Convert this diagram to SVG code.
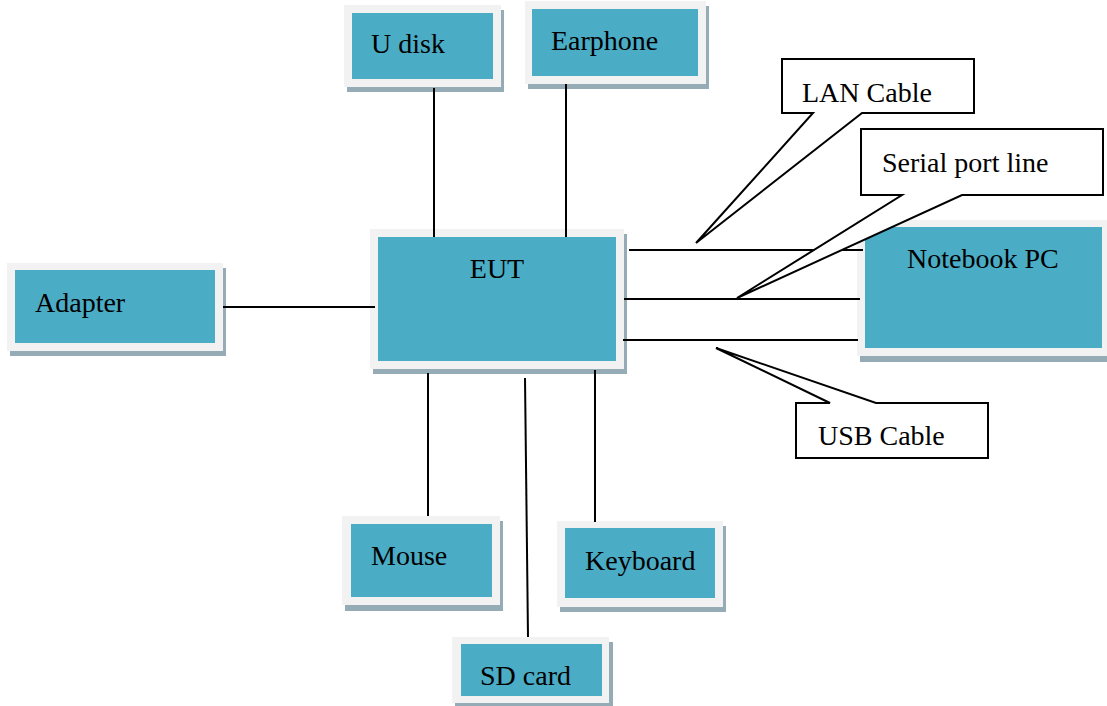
<svg xmlns="http://www.w3.org/2000/svg" width="1107" height="706" viewBox="0 0 1107 706">
<style>
.sh{fill:#95acb6}
.fr{fill:#f2f2f2}
.tl{fill:#4bacc6}
.t{font-family:"Liberation Serif","Times New Roman",serif;font-size:28px;fill:#000}
.ln{stroke:#000;stroke-width:2;fill:none}
.co{stroke:#000;stroke-width:2;fill:#fff;stroke-linejoin:miter}
</style>
<rect width="1107" height="706" fill="#fff"/>
<g id="udisk">
<rect class="sh" x="347" y="10" width="157" height="82"/>
<rect class="fr" x="344" y="5" width="157" height="82"/>
<rect class="tl" x="352" y="13" width="141" height="66"/>
<text class="t" x="371" y="53">U disk</text>
</g>
<g id="earphone">
<rect class="sh" x="528" y="6" width="181" height="83"/>
<rect class="fr" x="525" y="1" width="181" height="83"/>
<rect class="tl" x="532" y="9" width="166" height="67"/>
<text class="t" x="551" y="50">Earphone</text>
</g>
<g id="eut">
<rect class="sh" x="373" y="234" width="254" height="140"/>
<rect class="fr" x="370" y="229" width="254" height="140"/>
<rect class="tl" x="378" y="237" width="238" height="124"/>
<text class="t" x="497" y="278" text-anchor="middle">EUT</text>
</g>
<g id="adapter">
<rect class="sh" x="10" y="268" width="216" height="88"/>
<rect class="fr" x="7" y="263" width="216" height="88"/>
<rect class="tl" x="15" y="270" width="200" height="73"/>
<text class="t" x="35" y="312">Adapter</text>
</g>
<g id="notebook">
<rect class="sh" x="860" y="225" width="260" height="137"/>
<rect class="fr" x="857" y="220" width="260" height="136"/>
<rect class="tl" x="865" y="227" width="237" height="121"/>
<text class="t" x="907" y="268">Notebook PC</text>
</g>
<g id="mouse">
<rect class="sh" x="345" y="521" width="158" height="90"/>
<rect class="fr" x="342" y="516" width="158" height="89"/>
<rect class="tl" x="351" y="524" width="141" height="73"/>
<text class="t" x="371" y="565">Mouse</text>
</g>
<g id="keyboard">
<rect class="sh" x="560" y="526" width="166" height="86"/>
<rect class="fr" x="557" y="521" width="166" height="86"/>
<rect class="tl" x="565" y="528" width="150" height="70"/>
<text class="t" x="585" y="570">Keyboard</text>
</g>
<g id="sdcard">
<rect class="sh" x="455" y="642" width="158" height="66"/>
<rect class="fr" x="452" y="637" width="157" height="66"/>
<rect class="tl" x="461" y="644" width="141" height="52"/>
<text class="t" x="480" y="685">SD card</text>
</g>
<g id="connectors">
<line class="ln" x1="434" y1="88" x2="434" y2="237"/>
<line class="ln" x1="566" y1="84" x2="566" y2="237"/>
<line class="ln" x1="223" y1="307" x2="375" y2="307"/>
<line class="ln" x1="428" y1="373" x2="428" y2="516"/>
<line class="ln" x1="525" y1="378" x2="528" y2="637"/>
<line class="ln" x1="595" y1="370" x2="595" y2="522"/>
<line class="ln" x1="629" y1="250" x2="863" y2="250"/>
<line class="ln" x1="624" y1="299" x2="860" y2="299"/>
<line class="ln" x1="623" y1="340" x2="858" y2="340"/>
</g>
<g id="lan-callout">
<path class="co" d="M782,59 H974 V113 H862 L696,243 L813,113 H782 Z"/>
<text class="t" x="802" y="102">LAN Cable</text>
</g>
<g id="serial-callout">
<path class="co" d="M861,129 H1103 V195 H962 L737,298 L902,195 H861 Z"/>
<text class="t" x="882" y="172">Serial port line</text>
</g>
<g id="usb-callout">
<path class="co" d="M796,403 H830 L716,348 L876,403 H988 V458 H796 Z"/>
<text class="t" x="818" y="445">USB Cable</text>
</g>
</svg>
